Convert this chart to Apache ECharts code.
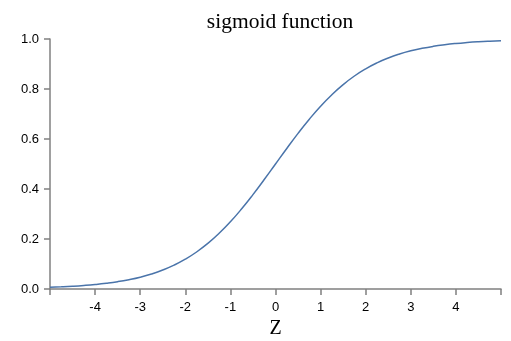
<!DOCTYPE html>
<html>
<head>
<meta charset="utf-8">
<script src="https://cdn.jsdelivr.net/npm/echarts@6/dist/echarts.min.js"></script>
<style>html,body{margin:0;padding:0;background:#fff}#c{width:511px;height:341px}</style>
</head>
<body>
<div id="c"></div>
<script>
var zValues = [-5,-4.75,-4.5,-4.25,-4,-3.75,-3.5,-3.25,-3,-2.75,-2.5,-2.25,-2,-1.75,-1.5,-1.25,-1,-0.75,-0.5,-0.25,0,0.25,0.5,0.75,1,1.25,1.5,1.75,2,2.25,2.5,2.75,3,3.25,3.5,3.75,4,4.25,4.5,4.75,5];
var sigmoidValues = [0.0067,0.0086,0.0110,0.0141,0.0180,0.0230,0.0293,0.0374,0.0474,0.0601,0.0759,0.0953,0.1192,0.1480,0.1824,0.2227,0.2689,0.3208,0.3775,0.4378,0.5,0.5622,0.6225,0.6792,0.7311,0.7773,0.8176,0.8520,0.8808,0.9047,0.9241,0.9399,0.9526,0.9626,0.9707,0.9770,0.9820,0.9859,0.9890,0.9914,0.9933];
var xTickLabels = ['-4','-3','-2','-1','0','1','2','3','4'];
var yTickLabels = ['0.0','0.2','0.4','0.6','0.8','1.0'];

var chart = echarts.init(document.getElementById('c'), null, {renderer:'canvas'});
var data = zValues.map(function(z,i){return [z, sigmoidValues[i]];});
chart.setOption({
  animation:false,
  title:{text:'sigmoid function', left:275, top:6, textAlign:'center',
    textStyle:{fontFamily:'Liberation Serif, serif', fontWeight:'normal', fontSize:21.5, color:'#000'}},
  grid:{left:50, right:10, top:39, bottom:52, containLabel:false, outerBoundsMode:'none'},
  xAxis:{type:'value', min:-5, max:5, interval:1,
    name:'Z', nameLocation:'middle', nameGap:30,
    nameTextStyle:{fontFamily:'Liberation Serif, serif', fontSize:20, color:'#000'},
    axisLine:{show:true, onZero:false, lineStyle:{color:'#808080', width:1.5}},
    axisTick:{show:true, length:6, lineStyle:{color:'#808080', width:1.5}},
    splitLine:{show:false},
    axisLabel:{margin:12, color:'#000', fontFamily:'Liberation Sans, Arial, sans-serif', fontSize:13,
      showMinLabel:true, showMaxLabel:true,
      formatter:function(v){var s=String(Math.round(v)); return xTickLabels.indexOf(s)>=0?s:'';}}
  },
  yAxis:{type:'value', min:0, max:1, interval:0.2,
    axisLine:{show:true, onZero:false, lineStyle:{color:'#808080', width:1.5}},
    axisTick:{show:true, length:6, lineStyle:{color:'#808080', width:1.5}},
    splitLine:{show:false},
    axisLabel:{margin:11, color:'#000', fontFamily:'Liberation Sans, Arial, sans-serif', fontSize:13,
      formatter:function(v){return yTickLabels[Math.round(v*5)];}}
  },
  series:[{type:'line', data:data, smooth:true, showSymbol:false, symbol:'none',
    lineStyle:{color:'#4a74aa', width:1.5}}]
});
</script>
</body>
</html>
